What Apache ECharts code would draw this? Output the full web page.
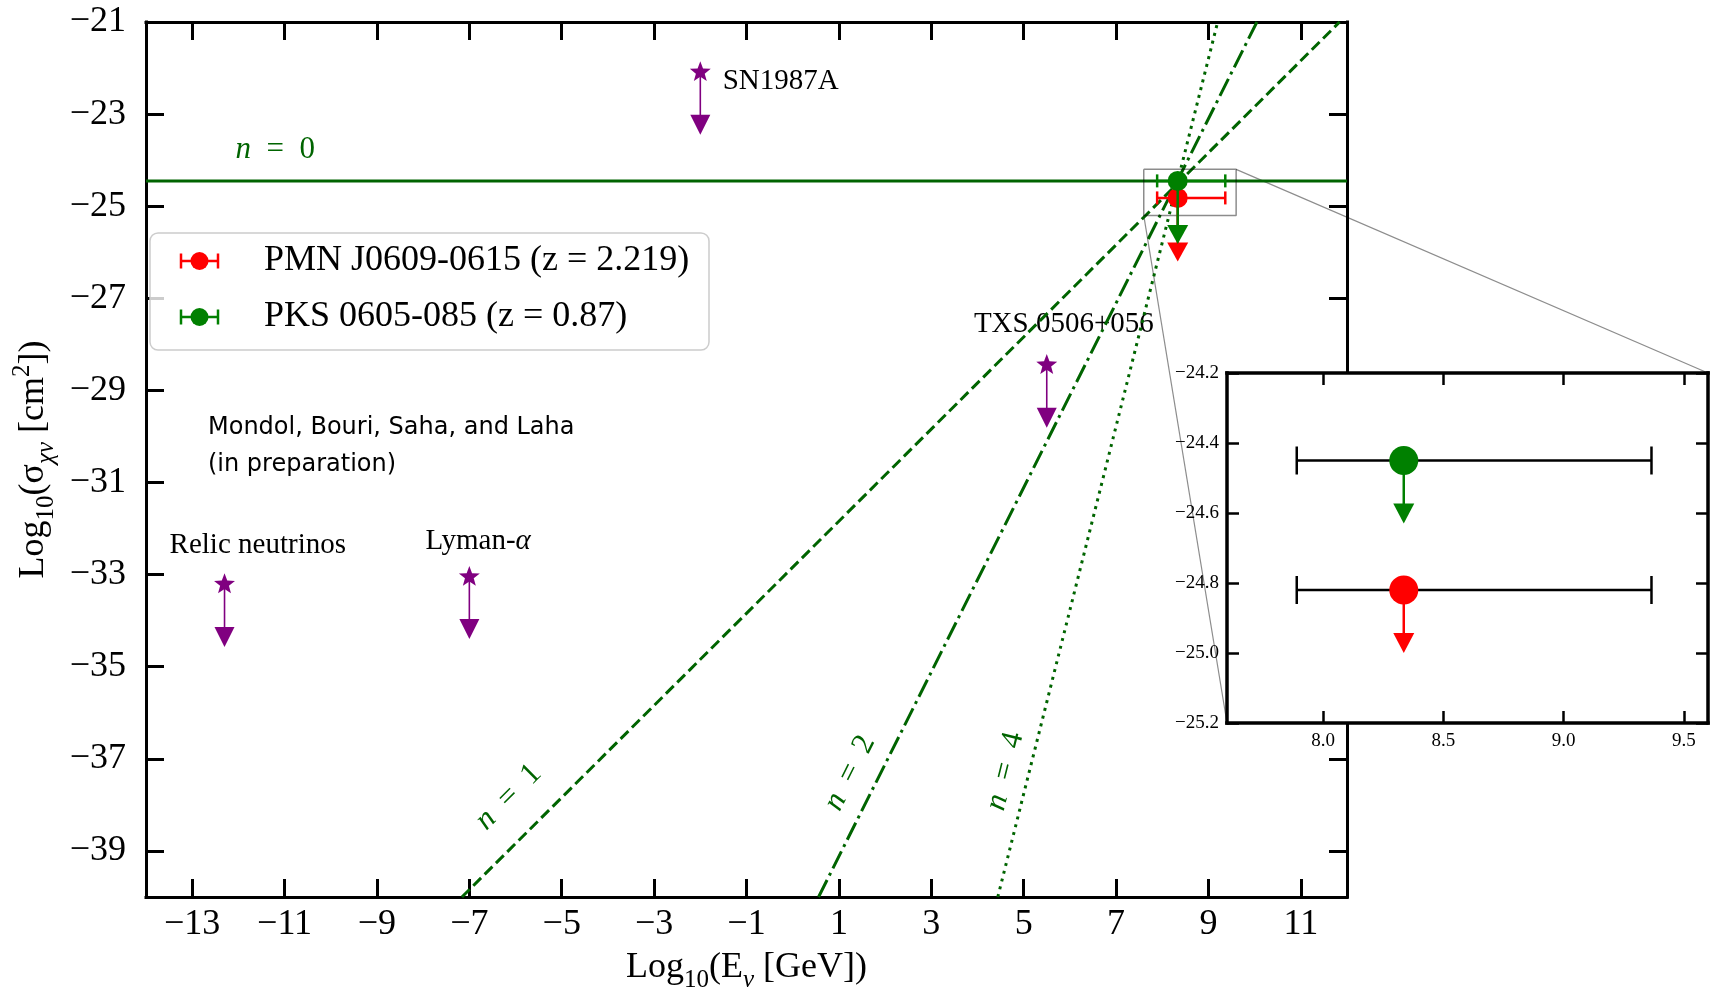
<!DOCTYPE html>
<html>
<head>
<meta charset="utf-8">
<script src="https://cdn.jsdelivr.net/npm/echarts@6/dist/echarts.min.js"></script>
<style>
  html, body { margin: 0; padding: 0; background: #fff; }
  #chart { width: 1719px; height: 990px; }
</style>
</head>
<body>
<div id="chart"></div>
<script>
// ---- tick positions ----
const mainXTicks = [-13, -11, -9, -7, -5, -3, -1, 1, 3, 5, 7, 9, 11];
const mainYTicks = [-39, -37, -35, -33, -31, -29, -27, -25, -23, -21];
const insetXTicks = [8.0, 8.5, 9.0, 9.5];
const insetYTicks = [-25.2, -25.0, -24.8, -24.6, -24.4, -24.2];

// ---- blazar upper limits (log10 E in GeV, log10 sigma in cm^2) ----
const blazarNames = ['PMN J0609-0615', 'PKS 0605-085'];
const blazarRedshifts = ['2.219', '0.87'];
const blazarLogE = [8.335, 8.335];
const blazarLogELow = [7.89, 7.89];
const blazarLogEHigh = [9.365, 9.365];
const blazarLogSigma = [-24.82, -24.45];
const blazarArrowTipMain = [-26.2, -25.82];
const blazarArrowTipInset = [-25.0, -24.63];

// ---- other published bounds ----
const boundNames = ['SN1987A', 'TXS 0506+056', 'Relic neutrinos', 'Lyman-{i|α}'];
const boundLogE = [-2.0, 5.5, -12.3, -7.0];
const boundLogSigma = [-22.09, -28.45, -33.21, -33.05];
const boundArrowTip = [-23.45, -29.81, -34.57, -34.40];

// ---- energy-scaling lines sigma ∝ E^n (end points) ----
const scalingN = ['0', '1', '2', '4'];
const scalingN0 = [[-14, -24.45], [12, -24.45]];
const scalingN1 = [[-7.16, -40], [11.84, -21]];
const scalingN2 = [[0.56, -40], [10.05, -21]];
const scalingN4 = [[4.44, -40], [9.2, -21]];

// ---- axis ranges ----
const mainXRange = [-14, 12];
const mainYRange = [-40, -21];
const zoomXRange = [7.6, 9.6];
const zoomYRange = [-25.2, -24.2];

// ---- layout & style ----
const SERIF = "'Liberation Serif', 'DejaVu Serif', serif";
const LINE_GREEN = '#006400';
const blazarColors = ['#ff0000', '#008000'];
const PURPLE = '#800080';
const boundLabelAt = [[-0.26, -22.28], [5.87, -27.57], [-11.58, -32.36], [-6.81, -32.28]];
const scalingLabelAt = [[-11.2, -23.78], [-6.15, -37.83], [1.24, -37.31], [4.60, -37.27]];
const scalingLabelRot = [0, 45, 63.4, 76];

const fmtMain = v => (v < 0 ? '\u2212' : '') + Math.abs(v);
const fmtInset = v => (v < 0 ? '\u2212' : '') + Math.abs(v).toFixed(1);

const nameRich = {
  n: { fontSize: 36, fontFamily: SERIF, color: '#000', verticalAlign: 'top', padding: [10, 0, 0, 0] },
  s: { fontSize: 25, fontFamily: SERIF, color: '#000', verticalAlign: 'top', padding: [28, 0, 0, 0] },
  si: { fontSize: 25, fontFamily: SERIF, fontStyle: 'italic', color: '#000', verticalAlign: 'top', padding: [28, 0, 0, 0] },
  p: { fontSize: 25, fontFamily: SERIF, color: '#000', verticalAlign: 'top', padding: [4, 0, 0, 0] }
};

function frameAxis(gridIndex, position, range, ticks, cfg) {
  const labelled = position === 'bottom' || position === 'left';
  return {
    type: 'value', gridIndex, position, min: range[0], max: range[1],
    axisLine: { show: true, onZero: false, lineStyle: { color: '#000', width: cfg.lineW, cap: 'square' } },
    axisTick: { show: true, inside: true, length: cfg.tickLen, customValues: ticks, lineStyle: { color: '#000', width: cfg.tickW } },
    axisLabel: labelled ? {
      show: true, customValues: ticks, formatter: cfg.fmt, margin: cfg.margin,
      fontSize: cfg.fontSize, fontFamily: SERIF, color: '#000'
    } : { show: false },
    splitLine: { show: false },
    z: cfg.z
  };
}

const mainCfgX = { lineW: 3, tickLen: 18, tickW: 3, fmt: fmtMain, margin: 10, fontSize: 36, z: 0 };
const mainCfgY = { lineW: 3, tickLen: 18, tickW: 3, fmt: fmtMain, margin: 20, fontSize: 36, z: 0 };
const insetCfgX = { lineW: 3.5, tickLen: 12, tickW: 2.5, fmt: fmtInset, margin: 9, fontSize: 19, z: 11 };
const insetCfgY = { lineW: 3.5, tickLen: 12, tickW: 2.5, fmt: fmtInset, margin: 8, fontSize: 19, z: 11 };

const xMainBottom = Object.assign(frameAxis(0, 'bottom', mainXRange, mainXTicks, mainCfgX), {
  name: '{n|Log}{s|10}{n|(E}{si|ν}{n| [GeV])}',
  nameLocation: 'middle', nameGap: 43,
  nameTextStyle: { rich: nameRich }
});
const yMainLeft = Object.assign(frameAxis(0, 'left', mainYRange, mainYTicks, mainCfgY), {
  name: '{n|Log}{s|10}{n|(σ}{si|χν}{n| [cm}{p|2}{n|])}',
  nameLocation: 'middle', nameGap: 80, nameRotate: 90,
  nameTextStyle: { rich: nameRich }
});

// error bar + downward arrow + circle, one group per source
function blazarRenderer(barColorOverride, dims) {
  return function (params, api) {
    const i = params.dataIndex;
    const color = blazarColors[i];
    const barColor = barColorOverride || color;
    const y = api.value(1);
    const c = api.coord([api.value(0), y]);
    const lo = api.coord([api.value(2), y]);
    const hi = api.coord([api.value(3), y]);
    const tip = api.coord([api.value(0), api.value(4)]);
    const bar = { stroke: barColor, lineWidth: dims.barW };
    return {
      type: 'group',
      children: [
        { type: 'line', shape: { x1: lo[0], y1: lo[1], x2: hi[0], y2: hi[1] }, style: bar },
        { type: 'line', shape: { x1: lo[0], y1: lo[1] - dims.cap, x2: lo[0], y2: lo[1] + dims.cap }, style: bar },
        { type: 'line', shape: { x1: hi[0], y1: hi[1] - dims.cap, x2: hi[0], y2: hi[1] + dims.cap }, style: bar },
        { type: 'line', shape: { x1: c[0], y1: c[1], x2: tip[0], y2: tip[1] - dims.headH + 2 }, style: { stroke: color, lineWidth: dims.arrowW } },
        { type: 'polygon', shape: { points: [[tip[0] - dims.headW / 2, tip[1] - dims.headH], [tip[0] + dims.headW / 2, tip[1] - dims.headH], [tip[0], tip[1]]] }, style: { fill: color } },
        { type: 'circle', shape: { cx: c[0], cy: c[1], r: dims.r }, style: { fill: color } }
      ]
    };
  };
}

function starPoints(cx, cy, R) {
  const pts = [];
  const r = R * 0.42;
  for (let k = 0; k < 10; k++) {
    const a = -Math.PI / 2 + k * Math.PI / 5;
    const rr = k % 2 === 0 ? R : r;
    pts.push([cx + rr * Math.cos(a), cy + rr * Math.sin(a)]);
  }
  return pts;
}

function boundRenderer(params, api) {
  const c = api.coord([api.value(0), api.value(1)]);
  const tip = api.coord([api.value(0), api.value(2)]);
  const headW = 20, headH = 20;
  return {
    type: 'group',
    children: [
      { type: 'line', shape: { x1: c[0], y1: c[1], x2: tip[0], y2: tip[1] - headH + 2 }, style: { stroke: PURPLE, lineWidth: 1.6 } },
      { type: 'polygon', shape: { points: [[tip[0] - headW / 2, tip[1] - headH], [tip[0] + headW / 2, tip[1] - headH], [tip[0], tip[1]]] }, style: { fill: PURPLE } },
      { type: 'polygon', shape: { points: starPoints(c[0], c[1], 11) }, style: { fill: PURPLE } }
    ]
  };
}

const blazarMainData = blazarLogE.map((e, i) => [e, blazarLogSigma[i], blazarLogELow[i], blazarLogEHigh[i], blazarArrowTipMain[i]]);
const blazarInsetData = blazarLogE.map((e, i) => [e, blazarLogSigma[i], blazarLogELow[i], blazarLogEHigh[i], blazarArrowTipInset[i]]);
const boundData = boundLogE.map((e, i) => [e, boundLogSigma[i], boundArrowTip[i]]);
const zoomBoxPath = [
  [zoomXRange[0], zoomYRange[1]], [zoomXRange[1], zoomYRange[1]],
  [zoomXRange[1], zoomYRange[0]], [zoomXRange[0], zoomYRange[0]],
  [zoomXRange[0], zoomYRange[1]]
];

function scalingLine(data, type) {
  return {
    type: 'line', xAxisIndex: 0, yAxisIndex: 0, data, symbol: 'none', silent: true, z: 2,
    lineStyle: { color: LINE_GREEN, width: 3, type }
  };
}

const option = {
  animation: false,
  backgroundColor: '#fff',
  grid: [
    { left: 146, top: 22, width: 1201, height: 875, containLabel: false, outerBoundsMode: 'none' },
    { left: 1227, top: 373, width: 481, height: 350, containLabel: false, outerBoundsMode: 'none', show: true, backgroundColor: '#fff', borderWidth: 0, z: 10 }
  ],
  xAxis: [
    xMainBottom,
    frameAxis(0, 'top', mainXRange, mainXTicks, mainCfgX),
    frameAxis(1, 'bottom', zoomXRange, insetXTicks, insetCfgX),
    frameAxis(1, 'top', zoomXRange, insetXTicks, insetCfgX)
  ],
  yAxis: [
    yMainLeft,
    frameAxis(0, 'right', mainYRange, mainYTicks, mainCfgY),
    frameAxis(1, 'left', zoomYRange, insetYTicks, insetCfgY),
    frameAxis(1, 'right', zoomYRange, insetYTicks, insetCfgY)
  ],
  series: [
    scalingLine(scalingN0, 'solid'),
    scalingLine(scalingN1, [11, 5]),
    scalingLine(scalingN2, [19, 5, 3, 5]),
    scalingLine(scalingN4, [3, 5]),
    {
      type: 'line', xAxisIndex: 0, yAxisIndex: 0, data: zoomBoxPath, symbol: 'none', silent: true, z: 3,
      lineStyle: { color: 'rgba(0,0,0,0.45)', width: 1.5 }
    },
    {
      type: 'custom', xAxisIndex: 0, yAxisIndex: 0, data: boundData, renderItem: boundRenderer, silent: true, z: 4
    },
    {
      type: 'custom', xAxisIndex: 0, yAxisIndex: 0, data: blazarMainData, silent: true, z: 5,
      renderItem: blazarRenderer(null, { barW: 2.5, cap: 6.5, arrowW: 2.5, headW: 21, headH: 19, r: 10 })
    },
    {
      type: 'custom', xAxisIndex: 2, yAxisIndex: 2, data: blazarInsetData, silent: true, z: 12,
      renderItem: blazarRenderer('#000', { barW: 2.5, cap: 14, arrowW: 2.5, headW: 21, headH: 20, r: 14.5 })
    }
  ]
};

const chart = echarts.init(document.getElementById('chart'), null, { renderer: 'canvas' });
chart.setOption(option);

// annotations placed at data positions
const px = (g, p) => chart.convertToPixel({ gridIndex: g }, p);
const graphics = [];

// zoom connectors
const boxTR = px(0, [zoomXRange[1], zoomYRange[1]]);
const insetTR = px(1, [zoomXRange[1], zoomYRange[1]]);
const boxBL = px(0, [zoomXRange[0], zoomYRange[0]]);
const insetBL = px(1, [zoomXRange[0], zoomYRange[0]]);
[[boxTR, insetTR], [boxBL, insetBL]].forEach(([a, b]) => {
  graphics.push({
    type: 'line', z: 1, silent: true,
    shape: { x1: a[0], y1: a[1], x2: b[0], y2: b[1] },
    style: { stroke: 'rgba(0,0,0,0.45)', lineWidth: 1.2 }
  });
});

// bound names
boundNames.forEach((name, i) => {
  const p = px(0, boundLabelAt[i]);
  graphics.push({
    type: 'text', x: p[0], y: p[1], z: 1, silent: true,
    style: {
      text: name, fontSize: 29, fontFamily: SERIF, fill: '#000', align: 'center', verticalAlign: 'middle',
      rich: { i: { fontSize: 29, fontFamily: SERIF, fontStyle: 'italic', fill: '#000' } }
    }
  });
});

// n = ... labels
scalingN.forEach((n, i) => {
  const p = px(0, scalingLabelAt[i]);
  graphics.push({
    type: 'text', x: p[0], y: p[1], z: 1, silent: true,
    rotation: scalingLabelRot[i] * Math.PI / 180,
    style: {
      text: '{i|n}  =  ' + n, fontSize: 31, fontFamily: SERIF, fill: LINE_GREEN, align: 'center', verticalAlign: 'middle',
      rich: { i: { fontSize: 31, fontFamily: SERIF, fontStyle: 'italic', fill: LINE_GREEN } }
    }
  });
});

// credit text
graphics.push({
  type: 'text', x: 208, y: 409, z: 1, silent: true,
  style: {
    text: 'Mondol, Bouri, Saha, and Laha\n(in preparation)', fontSize: 24, lineHeight: 37,
    fontFamily: "'Comic Sans MS', 'DejaVu Sans', sans-serif", fill: '#000', align: 'left', verticalAlign: 'top'
  }
});

// legend box
const legend = { x: 150, y: 233, w: 559, h: 117, rows: [261, 317], iconL: 181, iconR: 218, iconC: 199.5, textX: 264 };
graphics.push({
  type: 'rect', z: 20, silent: true,
  shape: { x: legend.x, y: legend.y, width: legend.w, height: legend.h, r: 8 },
  style: { fill: 'rgba(255,255,255,0.8)', stroke: '#cccccc', lineWidth: 1.5 }
});
blazarNames.forEach((name, i) => {
  const y = legend.rows[i];
  const col = blazarColors[i];
  const st = { stroke: col, lineWidth: 2.5 };
  graphics.push(
    { type: 'line', z: 21, silent: true, shape: { x1: legend.iconL, y1: y, x2: legend.iconR, y2: y }, style: st },
    { type: 'line', z: 21, silent: true, shape: { x1: legend.iconL, y1: y - 7.5, x2: legend.iconL, y2: y + 7.5 }, style: st },
    { type: 'line', z: 21, silent: true, shape: { x1: legend.iconR, y1: y - 7.5, x2: legend.iconR, y2: y + 7.5 }, style: st },
    { type: 'circle', z: 21, silent: true, shape: { cx: legend.iconC, cy: y, r: 9 }, style: { fill: col } },
    {
      type: 'text', z: 21, silent: true, x: legend.textX, y: y,
      style: { text: name + ' (z = ' + blazarRedshifts[i] + ')', fontSize: 36, fontFamily: SERIF, fill: '#000', align: 'left', verticalAlign: 'middle' }
    }
  );
});

chart.setOption({ graphic: { elements: graphics } });
</script>
</body>
</html>
